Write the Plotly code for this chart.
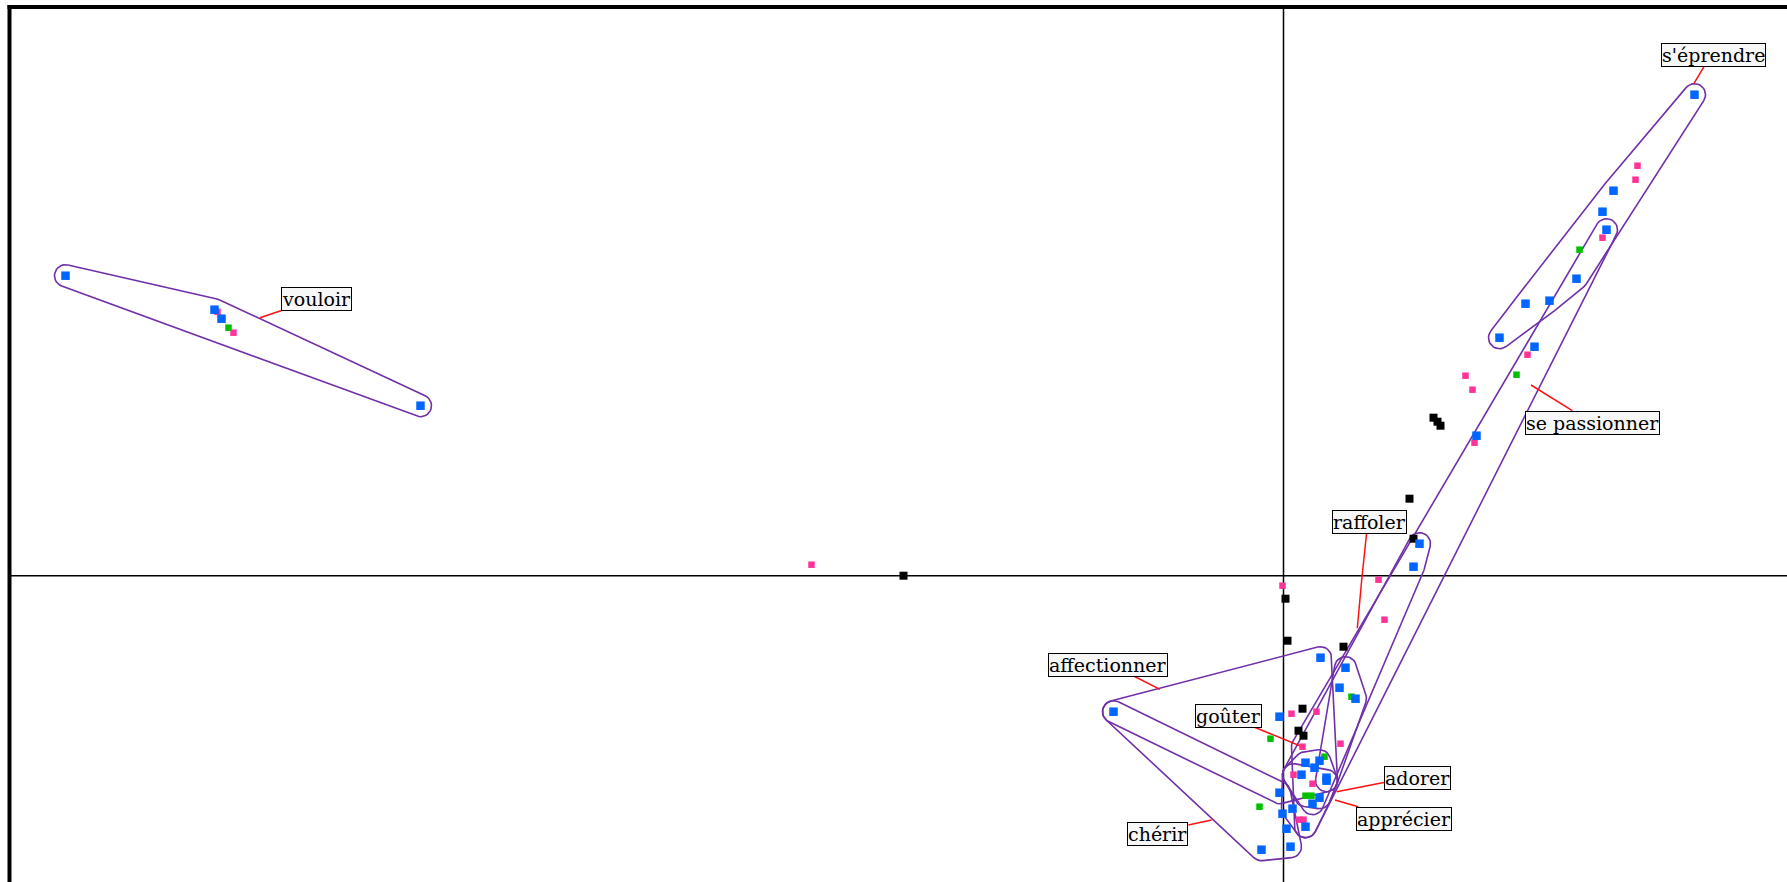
import math
import plotly.graph_objects as go

# ---- data (factor-plane coordinates) ----
blue_x = [-12.18, -10.69, -10.62, -8.63, 4.11, 3.30, 3.19, 3.23, 2.93, 2.66, 2.42, 2.16, 2.51, 1.93,
          1.36, 1.30, 0.37, 0.62, 0.56, 0.72, -1.70, -0.04, 0.22, 0.36, 0.31, 0.18, 0.43, 0.43,
          -0.04, 0.36, 0.29, -0.01, 0.09, 0.22, 0.03, 0.07, -0.22]
blue_y = [3.00, 2.66, 2.57, 1.70, 4.81, 3.85, 3.64, 3.46, 2.97, 2.75, 2.72, 2.38, 2.29, 1.40,
          0.32, 0.09, -0.82, -0.92, -1.12, -1.23, -1.36, -1.41, -1.87, -1.85, -1.92, -1.99, -2.02, -2.05,
          -2.17, -2.22, -2.28, -2.38, -2.33, -2.51, -2.53, -2.71, -2.74]
pink_x = [-10.66, -10.50, -4.72, 3.54, 3.52, 3.19, 2.44, 1.82, 1.89, 1.91, 0.95, 1.01, -0.01,
          0.08, 0.33, 0.19, 0.57, 0.10, 0.29, 0.16, 0.20]
pink_y = [2.64, 2.43, 0.11, 4.10, 3.96, 3.38, 2.21, 2.00, 1.86, 1.33, -0.04, -0.44, -0.10,
          -1.38, -1.36, -1.71, -1.68, -1.99, -2.08, -2.44, -2.44]
green_x = [-10.55, 2.96, 2.33, 0.68, -0.13, 0.41, 0.22, 0.28, -0.24]
green_y = [2.48, 3.26, 2.01, -1.21, -1.63, -1.81, -2.20, -2.20, -2.31]
black_x = [-3.80, 1.50, 1.54, 1.57, 1.26, 1.30, 0.02, 0.04, 0.60, 0.19, 0.15, 0.20]
black_y = [0.00, 1.58, 1.54, 1.50, 0.77, 0.37, -0.23, -0.65, -0.71, -1.33, -1.55, -1.60]

# hull membership: (series, index)
hulls = {
    "vouloir": [("b", 0), ("b", 1), ("b", 2), ("b", 3), ("p", 1), ("g", 0)],
    "s'éprendre": [("b", 4), ("b", 5), ("b", 6), ("b", 7), ("b", 8), ("b", 9), ("b", 10), ("b", 11),
                   ("p", 3), ("p", 4), ("g", 1)],
    "se passionner": [("b", 7), ("p", 5), ("p", 15), ("b", 33), ("b", 29), ("b", 19)],
    "raffoler": [("b", 14), ("b", 15), ("b", 30), ("p", 17)],
    "affectionner": [("b", 20), ("b", 16), ("b", 27), ("b", 28)],
    "chérir": [("b", 20), ("b", 28), ("b", 35), ("b", 36)],
    "adorer": [("b", 17), ("b", 19), ("b", 27)],
    "goûter": [("b", 22), ("b", 23), ("b", 27), ("b", 29), ("g", 6), ("p", 17)],
    "apprécier": [("p", 17), ("b", 27), ("b", 29), ("b", 33), ("b", 32)],
}

# word labels: box centre, leader polyline
label_words = ["vouloir", "s'éprendre", "se passionner", "raffoler", "affectionner",
               "goûter", "adorer", "apprécier", "chérir"]
label_x = [-9.67, 4.30, 3.09, 0.86, -1.76, -0.55, 1.34, 1.20, -1.26]
label_y = [2.77, 5.21, 1.53, 0.54, -0.89, -1.40, -2.02, -2.43, -2.58]
leader_x = [[-10.005, -10.235], [4.205, 4.105], [2.888, 2.475], [0.832, 0.815, 0.782, 0.738],
            [-1.518, -1.235], [-0.302, 0.188], [1.015, 0.532], [0.748, 0.515], [-0.952, -0.718]]
leader_y = [[2.657, 2.58], [5.09, 4.924], [1.65, 1.907], [0.437, 0.29, -0.043, -0.526],
            [-0.993, -1.136], [-1.51, -1.71], [-2.066, -2.16], [-2.31, -2.243], [-2.493, -2.443]]

series = {"b": (blue_x, blue_y), "p": (pink_x, pink_y), "g": (green_x, green_y)}


def convex_hull(pts):
    pts = sorted(set(pts))
    if len(pts) <= 2:
        return pts

    def cross(o, a, b):
        return (a[0] - o[0]) * (b[1] - o[1]) - (a[1] - o[1]) * (b[0] - o[0])
    lower, upper = [], []
    for p in pts:
        while len(lower) >= 2 and cross(lower[-2], lower[-1], p) <= 0:
            lower.pop()
        lower.append(p)
    for p in reversed(pts):
        while len(upper) >= 2 and cross(upper[-2], upper[-1], p) <= 0:
            upper.pop()
        upper.append(p)
    return lower[:-1] + upper[:-1]


def rounded_outline(pts, r):
    hull = convex_hull(pts)
    m = len(hull)
    xs, ys = [], []
    for i in range(m):
        pp, p, pn = hull[i - 1], hull[i], hull[(i + 1) % m]
        d1 = (p[0] - pp[0], p[1] - pp[1])
        d2 = (pn[0] - p[0], pn[1] - p[1])
        a1 = math.atan2(-d1[0], d1[1])
        a2 = math.atan2(-d2[0], d2[1])
        while a2 < a1:
            a2 += 2 * math.pi
        steps = max(1, int((a2 - a1) / 0.2))
        for k in range(steps + 1):
            a = a1 + (a2 - a1) * k / steps
            xs.append(p[0] + r * math.cos(a))
            ys.append(p[1] + r * math.sin(a))
    xs.append(xs[0])
    ys.append(ys[0])
    return xs, ys


fig = go.Figure()

PURPLE = "#7030A8"
for word, members in hulls.items():
    pts = [(series[s][0][i], series[s][1][i]) for s, i in members]
    hx, hy = rounded_outline(pts, 0.11)
    fig.add_trace(go.Scatter(x=hx, y=hy, mode="lines", line=dict(color=PURPLE, width=1.6),
                             hoverinfo="skip", showlegend=False))

for lx, ly in zip(leader_x, leader_y):
    fig.add_trace(go.Scatter(x=lx, y=ly, mode="lines", line=dict(color="#FF1010", width=1.5),
                             hoverinfo="skip", showlegend=False))

fig.add_trace(go.Scatter(x=pink_x, y=pink_y, mode="markers", showlegend=False,
                         marker=dict(symbol="square", size=6.5, color="#FF3399", line=dict(width=0))))
fig.add_trace(go.Scatter(x=green_x, y=green_y, mode="markers", showlegend=False,
                         marker=dict(symbol="square", size=6.5, color="#00C000", line=dict(width=0))))
fig.add_trace(go.Scatter(x=black_x, y=black_y, mode="markers", showlegend=False,
                         marker=dict(symbol="square", size=8, color="#000000", line=dict(width=0))))
fig.add_trace(go.Scatter(x=blue_x, y=blue_y, mode="markers", showlegend=False,
                         marker=dict(symbol="square", size=8.5, color="#0066FF", line=dict(width=0))))

for w, x, y in zip(label_words, label_x, label_y):
    fig.add_annotation(x=x, y=y, xref="x", yref="y", text=w, showarrow=False,
                       font=dict(family="DejaVu Serif", size=19, color="black"),
                       bgcolor="#F7F7F7", bordercolor="black", borderwidth=1, borderpad=0)

W, H = 1787, 882
X0, X1 = -12.835, 5.035
Y0, Y1 = -3.063, 5.757

shapes = [
    # axes through the origin
    dict(type="line", xref="x", yref="y", x0=0, x1=0, y0=Y0, y1=5.69,
         line=dict(color="black", width=1.5), layer="below"),
    dict(type="line", xref="x", yref="y", x0=-12.74, x1=X1, y0=0, y1=0,
         line=dict(color="black", width=1.5), layer="below"),
    # frame (left and top)
    dict(type="line", xref="paper", yref="paper", x0=9.5 / W, x1=9.5 / W, y0=0, y1=1 - 5 / H,
         line=dict(color="black", width=4)),
    dict(type="line", xref="paper", yref="paper", x0=7.5 / W, x1=1, y0=1 - 7 / H, y1=1 - 7 / H,
         line=dict(color="black", width=4)),
]

fig.update_layout(
    width=W, height=H, margin=dict(l=0, r=0, t=0, b=0),
    paper_bgcolor="white", plot_bgcolor="white", showlegend=False,
    xaxis=dict(range=[X0, X1], visible=False, fixedrange=True),
    yaxis=dict(range=[Y0, Y1], visible=False, fixedrange=True),
    shapes=shapes,
)

fig.write_html("out.html", config={"displayModeBar": False},
               post_script="document.body.style.margin='0';document.body.style.overflow='hidden';")
